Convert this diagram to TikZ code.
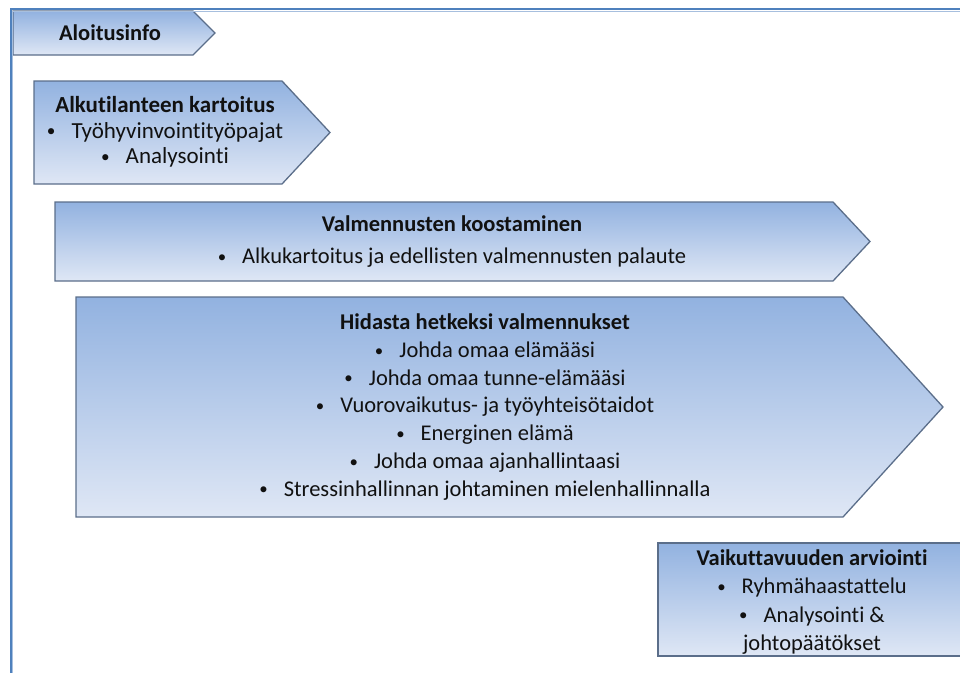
\documentclass[tikz,border=0pt]{standalone}
\usepackage{graphicx}
\usepackage{fontspec}
\setmainfont{Carlito}[Ligatures={NoCommon}]
\definecolor{framebl}{HTML}{4F81BD}
\definecolor{framelt}{HTML}{A7BFDE}
\definecolor{shtop}{HTML}{92B2E0}
\definecolor{shbot}{HTML}{DFE7F5}
\definecolor{edge}{HTML}{5B6E8A}
\definecolor{txt}{HTML}{111111}
\tikzset{
  phase/.style={draw=edge, line width=1.3pt, top color=shtop, bottom color=shbot},
  lbl/.style={align=center, inner sep=0pt, text=txt, font=\fontsize{22.5}{27.9}\selectfont},
}
\newcommand{\bul}{\raisebox{0.12ex}{\scalebox{0.75}{\textbullet}}\hspace{16pt}}
\begin{document}
\begin{tikzpicture}[x=1pt,y=-1pt]
\useasboundingbox (0,0) rectangle (960,673);
% shapes
\path[phase] (13,11) -- (193,11) -- (215,33) -- (193,55) -- (13,55) -- cycle;
\path[phase] (34,81) -- (282,81) -- (330,132.5) -- (282,184) -- (34,184) -- cycle;
\path[phase] (55,202) -- (833,202) -- (870,241.5) -- (833,281) -- (55,281) -- cycle;
\path[phase] (76,297) -- (843,297) -- (943,407) -- (843,517) -- (76,517) -- cycle;
\path[phase] (658,543) rectangle (968,656);
% frame lines
\draw[framelt, line width=1pt] (12,11.5) -- (960,11.5);
\draw[framelt, line width=1pt] (12.5,11) -- (12.5,673);
\draw[framebl, line width=2.2pt] (10,9) -- (960,9);
\draw[framebl, line width=2.2pt] (11,8) -- (11,673);
% texts
\node[lbl] (aloitus) at (110,33) {\textbf{Aloitusinfo}};
\node[lbl, font=\fontsize{23}{25.5}\selectfont] (alku) at (165,132) {\textbf{Alkutilanteen kartoitus}\\ \bul Työhyvinvointityöpajat\\ \bul Analysointi};
\node[lbl, font=\fontsize{22.5}{32}\selectfont] (valm) at (452,242) {\textbf{Valmennusten koostaminen}\\ \bul Alkukartoitus ja edellisten valmennusten palaute};
\node[lbl, font=\fontsize{22.5}{27.7}\selectfont] (hidasta) at (485,407) {\textbf{Hidasta hetkeksi valmennukset}\\ \bul Johda omaa elämääsi\\ \bul Johda omaa tunne-elämääsi\\ \bul Vuorovaikutus- ja työyhteisötaidot\\ \bul Energinen elämä\\ \bul Johda omaa ajanhallintaasi\\ \bul Stressinhallinnan johtaminen mielenhallinnalla};
\node[lbl, font=\fontsize{22.5}{28.3}\selectfont] (vaik) at (812,602) {\textbf{Vaikuttavuuden arviointi}\\ \bul Ryhmähaastattelu\\ \bul Analysointi \&\\ johtopäätökset};
\end{tikzpicture}
\end{document}
